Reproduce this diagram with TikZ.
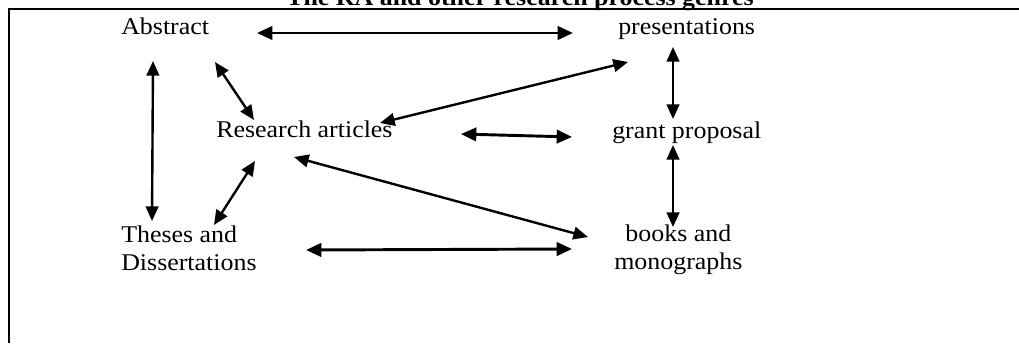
\documentclass[tikz,border=0pt]{standalone}
\usepackage{fontspec}
\setmainfont{Liberation Serif}[FakeStretch=1.08]
\usetikzlibrary{arrows.meta}
\begin{document}
\begin{tikzpicture}[x=0.75pt,y=-0.75pt,
  lbl/.style={inner sep=0pt, anchor=base west, align=left, font=\fontsize{18pt}{21pt}\selectfont},
  thickarr/.style={line width=2.2pt, {Triangle[length=11.5pt,width=10pt]}-{Triangle[length=11.5pt,width=10pt]}},
  thinarr/.style={line width=1.8pt, {Triangle[length=11pt,width=9.5pt]}-{Triangle[length=11pt,width=9.5pt]}},
  frame/.style={line width=1.6pt}]
\useasboundingbox (0,0) rectangle (1019,343);
\clip (0,0) rectangle (1019,343);
% title (clipped at top as in the reference)
\node[inner sep=0pt, anchor=base, font=\fontsize{18pt}{21pt}\selectfont\bfseries] (title) at (520,5) {The RA and other research process genres};
\draw[frame] (9,343) -- (9,9) -- (1030,9);
% labels (multi-line nodes are anchored at the baseline of their last line)
\node[lbl] (abs) at (121,34) {Abstract};
\node[lbl] (pres) at (618,34) {presentations};
\node[lbl] (ra) at (216,137) {Research articles};
\node[lbl] (grant) at (612,138) {grant proposal};
\node[lbl] (theses) at (121,270) {Theses and\\Dissertations};
\node[lbl, align=center] (books) at (614,269) {books and\\monographs};
% arrow end points
\coordinate (a1) at (257,33);  \coordinate (a2) at (573,33);
\coordinate (b1) at (153,61);  \coordinate (b2) at (152,221);
\coordinate (c1) at (215,62);  \coordinate (c2) at (254,120);
\coordinate (d1) at (628,62);  \coordinate (d2) at (380,123);
\coordinate (e1) at (673,47);  \coordinate (e2) at (673,119);
\coordinate (f1) at (461,134); \coordinate (f2) at (572,137);
\coordinate (g1) at (673,145); \coordinate (g2) at (673,227);
\coordinate (h1) at (294,157); \coordinate (h2) at (588,237);
\coordinate (i1) at (255,161); \coordinate (i2) at (214,225);
\coordinate (j1) at (306,250); \coordinate (j2) at (572,249);
% connectors
\draw[thickarr] (a1) -- (a2);
\draw[thinarr] (b1) -- (b2);
\draw[thinarr] (c1) -- (c2);
\draw[thinarr] (d1) -- (d2);
\draw[thinarr] (e1) -- (e2);
\draw[thickarr] (f1) -- (f2);
\draw[thinarr] (g1) -- (g2);
\draw[thinarr] (h1) -- (h2);
\draw[thinarr] (i1) -- (i2);
\draw[thickarr] (j1) -- (j2);
\end{tikzpicture}
\end{document}
